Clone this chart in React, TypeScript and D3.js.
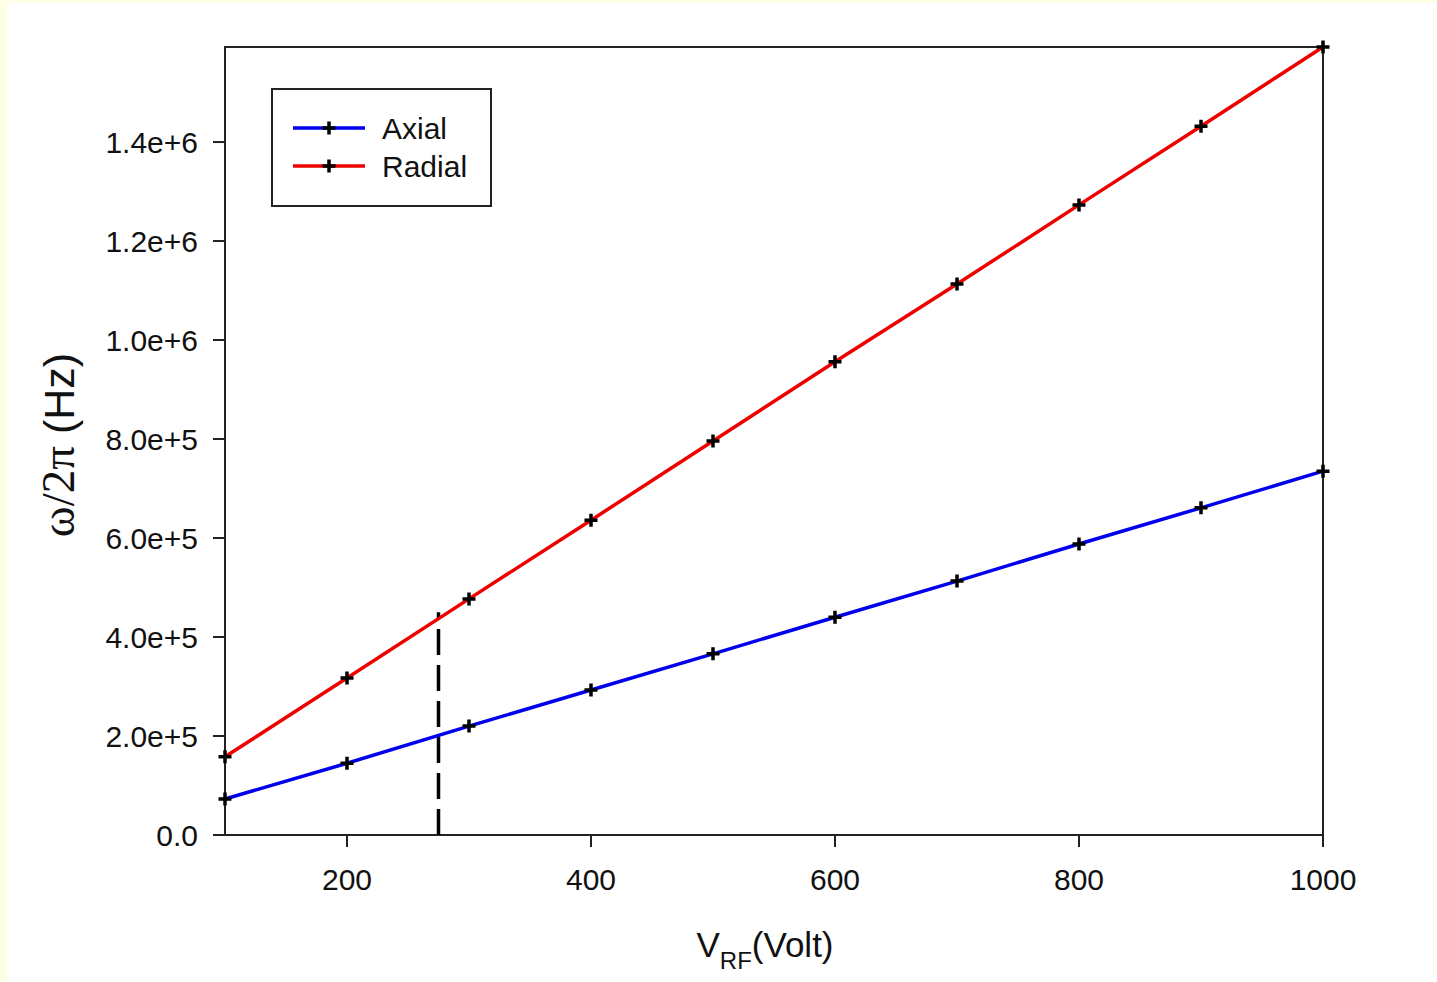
import React, { useEffect, useRef } from 'react';
import * as d3 from 'd3';

// data
const voltages = [100, 200, 300, 400, 500, 600, 700, 800, 900, 1000];
const axialValues = [72700, 145000, 220000, 293000, 366000, 440000, 513000, 588000, 661000, 735000];
const radialValues = [158000, 317000, 477000, 636000, 796000, 956000, 1113000, 1273000, 1432000, 1592000];
const xTickValues = [200, 400, 600, 800, 1000];
const yTickValues = [0, 200000, 400000, 600000, 800000, 1000000, 1200000, 1400000];
const yTickLabels = ['0.0', '2.0e+5', '4.0e+5', '6.0e+5', '8.0e+5', '1.0e+6', '1.2e+6', '1.4e+6'];
const cutoffVoltage = 275;
const cutoffTop = 450000;
const seriesNames = ['Axial', 'Radial'];
const seriesColors = ['#0000ee', '#ee0000'];

const W = 1437;
const H = 982;

const App = () => {
  const svgRef = useRef<SVGSVGElement>(null);

  useEffect(() => {
    const svg = d3.select(svgRef.current);
    svg.selectAll('*').remove();

    const font = 'Arial, "Liberation Sans", sans-serif';
    const margin = { top: 47, right: W - 1323, bottom: H - 835, left: 225 };

    // yellowish frame of the slide
    svg.append('rect').attr('width', W).attr('height', H).attr('fill', '#fefee4');
    svg.append('rect').attr('x', 7).attr('y', 3).attr('width', W - 7).attr('height', H - 3).attr('fill', '#ffffff');

    const x = d3.scaleLinear().domain([100, 1000]).range([margin.left, W - margin.right]);
    const y = d3.scaleLinear().domain([0, 1592000]).range([H - margin.bottom, margin.top]);

    // frame
    svg.append('rect')
      .attr('x', x(100)).attr('y', y(1592000))
      .attr('width', x(1000) - x(100)).attr('height', y(0) - y(1592000))
      .attr('fill', 'none').attr('stroke', '#222').attr('stroke-width', 2);

    // x axis line extends a bit to the left
    svg.append('line')
      .attr('x1', x(100) - 11).attr('x2', x(1000))
      .attr('y1', y(0)).attr('y2', y(0))
      .attr('stroke', '#222').attr('stroke-width', 2);

    // y ticks
    yTickValues.forEach((t, i) => {
      svg.append('line')
        .attr('x1', x(100) - 12).attr('x2', x(100))
        .attr('y1', y(t)).attr('y2', y(t))
        .attr('stroke', '#222').attr('stroke-width', 2);
      svg.append('text')
        .attr('x', x(100) - 27).attr('y', y(t))
        .attr('dy', '0.36em')
        .attr('text-anchor', 'end')
        .style('font-family', font).style('font-size', '30px').style('fill', '#111')
        .text(yTickLabels[i]);
    });

    // x ticks
    xTickValues.forEach(t => {
      svg.append('line')
        .attr('x1', x(t)).attr('x2', x(t))
        .attr('y1', y(0)).attr('y2', y(0) + 12)
        .attr('stroke', '#222').attr('stroke-width', 2);
      svg.append('text')
        .attr('x', x(t)).attr('y', y(0) + 55)
        .attr('text-anchor', 'middle')
        .style('font-family', font).style('font-size', '30px').style('fill', '#111')
        .text(t);
    });

    // dashed cutoff line
    svg.append('line')
      .attr('x1', x(cutoffVoltage)).attr('x2', x(cutoffVoltage))
      .attr('y1', y(0)).attr('y2', y(cutoffTop))
      .attr('stroke', '#000').attr('stroke-width', 3.5)
      .attr('stroke-dasharray', '26,10');

    const line = d3.line<number>()
      .x((_, i) => x(voltages[i]))
      .y(d => y(d));

    const plus = (g: d3.Selection<any, any, any, any>, cx: number, cy: number) => {
      g.append('path')
        .attr('d', `M${cx - 6.5},${cy}H${cx + 6.5}M${cx},${cy - 6.5}V${cy + 6.5}`)
        .attr('stroke', '#000').attr('stroke-width', 3.5).attr('fill', 'none');
    };

    [axialValues, radialValues].forEach((vals, s) => {
      svg.append('path')
        .datum(vals)
        .attr('d', line)
        .attr('fill', 'none')
        .attr('stroke', seriesColors[s])
        .attr('stroke-width', 3.5);
      const g = svg.append('g');
      vals.forEach((v, i) => plus(g, x(voltages[i]), y(v)));
    });

    // legend
    const legend = svg.append('g');
    legend.append('rect')
      .attr('x', 272).attr('y', 89).attr('width', 219).attr('height', 117)
      .attr('fill', '#fff').attr('stroke', '#222').attr('stroke-width', 2);
    seriesNames.forEach((name, i) => {
      const ly = 128 + i * 38;
      legend.append('line')
        .attr('x1', 293).attr('x2', 365).attr('y1', ly).attr('y2', ly)
        .attr('stroke', seriesColors[i]).attr('stroke-width', 3.5);
      plus(legend, 329, ly);
      legend.append('text')
        .attr('x', 382).attr('y', ly).attr('dy', '0.36em')
        .style('font-family', font).style('font-size', '30px').style('fill', '#111')
        .text(name);
    });

    // y axis title
    const yt = svg.append('text')
      .attr('transform', `translate(74, ${y(0) - 390}) rotate(-90)`)
      .attr('text-anchor', 'middle')
      .style('font-size', '47px').style('fill', '#111');
    yt.append('tspan').style('font-family', '"Liberation Serif", "Times New Roman", serif').text('ω/2π');
    yt.append('tspan').style('font-family', font).style('font-size', '43px').text(' (Hz)');

    // x axis title
    const xt = svg.append('text')
      .attr('x', 765).attr('y', 957)
      .attr('text-anchor', 'middle')
      .style('font-family', font).style('font-size', '35px').style('fill', '#111');
    xt.append('tspan').text('V');
    xt.append('tspan').attr('dy', 12).style('font-size', '24px').text('RF');
    xt.append('tspan').attr('dy', -12).text('(Volt)');
  }, []);

  return (
    <svg
      ref={svgRef}
      width={W}
      height={H}
      style={{ position: 'absolute', left: 0, top: 0, display: 'block' }}
    />
  );
};

export default App;
